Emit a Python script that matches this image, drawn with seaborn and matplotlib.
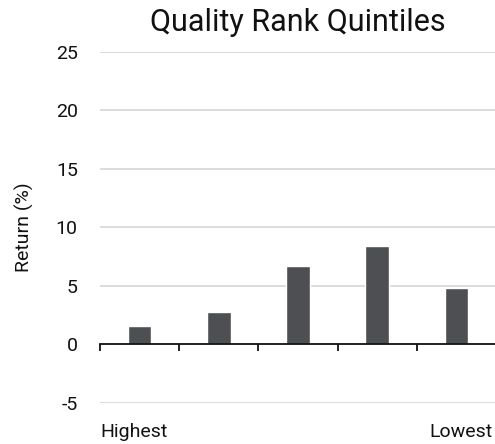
import matplotlib
matplotlib.use("Agg")
import matplotlib.pyplot as plt
import seaborn as sns
import pandas as pd

# Quintile returns, highest to lowest quality rank
quintiles = ["Q1", "Q2", "Q3", "Q4", "Q5"]
returns = [1.6, 2.8, 6.7, 8.4, 4.8]
y_ticks = [-5, 0, 5, 10, 15, 20, 25]

sns.set_theme(style="white")
plt.rcParams["font.family"] = ["Roboto", "DejaVu Sans"]

df = pd.DataFrame({"quintile": quintiles, "ret": returns})

fig = plt.figure(figsize=(4.95, 4.44), dpi=100)
ax = fig.add_axes([0.202, 0.0923, 0.80, 0.791])

sns.barplot(data=df, x="quintile", y="ret", color="#4d4f53", width=0.3,
            saturation=1, ax=ax)

ax.set_ylim(-5, 25)
ax.set_xlim(-0.5, 4.5)
ax.set_yticks(y_ticks)
ax.set_yticklabels([str(t) for t in y_ticks], fontsize=14, color="#111111")
ax.tick_params(axis="y", length=0, pad=16)

# light horizontal gridlines, except at zero where the axis line sits
for t in y_ticks:
    if t != 0:
        ax.axhline(t, color="#d9d9d9", lw=1.3, zorder=0)

for side in ["top", "right", "left"]:
    ax.spines[side].set_visible(False)
ax.spines["bottom"].set_position(("data", 0))
ax.spines["bottom"].set_color("#111111")
ax.spines["bottom"].set_linewidth(1.3)
ax.set_xticks([-0.5, 0.5, 1.5, 2.5, 3.5, 4.5])
ax.set_xticklabels([])
ax.tick_params(axis="x", direction="out", length=5, width=1.3,
               color="#111111", bottom=True)
ax.set_xlabel("")
ax.set_ylabel("Return (%)", fontsize=14, color="#111111", labelpad=16)

ax.set_title("Quality Rank Quintiles", fontsize=22, color="#111111", pad=15)

ax.text(0.0, -0.097, "Highest", transform=ax.transAxes, ha="left",
        va="baseline", fontsize=14, color="#111111")
ax.text(0.99, -0.097, "Lowest", transform=ax.transAxes, ha="right",
        va="baseline", fontsize=14, color="#111111")

fig.savefig("out.png", dpi=100)
